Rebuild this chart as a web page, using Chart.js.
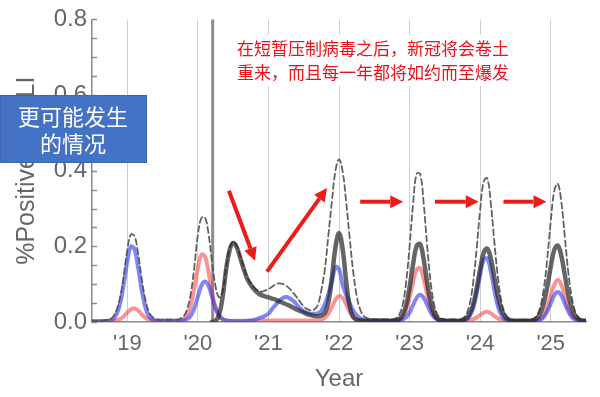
<!DOCTYPE html>
<html>
<head>
<meta charset="utf-8">
<script src="https://cdn.jsdelivr.net/npm/chart.js@4.4.1/dist/chart.umd.min.js"></script>
<style>
  html, body { margin: 0; padding: 0; background: #fff; }
  #wrap { position: relative; width: 600px; height: 397px; }
</style>
</head>
<body>
<div id="wrap"><canvas id="iliChart" width="600" height="397"></canvas></div>
<script>
"use strict";

// curves are sampled every 0.05 yr, from 2018.50 to 2025.50
const GRID_START = 2018.5;
const GRID_STEP = 0.05;

const yearTicks = [2019, 2020, 2021, 2022, 2023, 2024, 2025];
const yearLabels = ["'19", "'20", "'21", "'22", "'23", "'24", "'25"];
const valueTicks = [0, 0.2, 0.4, 0.6, 0.8];
const minorStep = 0.05;

const suppressionYear = 2020.21;

// one line per year (first line starts at .50, last line ends at 2025.50)
const blueSeries = [
    0.002, 0.002, 0.002, 0.002, 0.003, 0.004, 0.008, 0.021, 0.05, 0.1,
    0.16, 0.199, 0.194, 0.148, 0.089, 0.043, 0.017, 0.007, 0.004, 0.003, 0.003, 0.003, 0.003, 0.003, 0.003, 0.003, 0.004, 0.008, 0.017, 0.037,
    0.067, 0.096, 0.107, 0.096, 0.067, 0.037, 0.017, 0.008, 0.004, 0.003, 0.002, 0.002, 0.002, 0.002, 0.003, 0.004, 0.006, 0.009, 0.012, 0.016,
    0.022, 0.034, 0.045, 0.055, 0.063, 0.066, 0.063, 0.056, 0.046, 0.036, 0.028, 0.024, 0.022, 0.022, 0.023, 0.029, 0.047, 0.075, 0.108, 0.145,
    0.14, 0.1, 0.072, 0.05, 0.031, 0.018, 0.01, 0.006, 0.004, 0.003, 0.003, 0.003, 0.003, 0.003, 0.003, 0.003, 0.003, 0.004, 0.006, 0.012,
    0.025, 0.045, 0.064, 0.072, 0.064, 0.045, 0.025, 0.012, 0.006, 0.004, 0.003, 0.003, 0.003, 0.003, 0.003, 0.004, 0.006, 0.015, 0.036, 0.075,
    0.125, 0.164, 0.168, 0.135, 0.085, 0.043, 0.018, 0.007, 0.004, 0.003, 0.003, 0.003, 0.003, 0.003, 0.003, 0.003, 0.004, 0.006, 0.013, 0.028,
    0.049, 0.07, 0.079, 0.07, 0.049, 0.028, 0.013, 0.006, 0.004, 0.003, 0.003
];

const redSeries = [
    0.002, 0.002, 0.002, 0.002, 0.002, 0.003, 0.003, 0.005, 0.008, 0.015,
    0.025, 0.033, 0.036, 0.031, 0.021, 0.012, 0.007, 0.004, 0.003, 0.003, 0.003, 0.003, 0.003, 0.003, 0.003, 0.004, 0.008, 0.019, 0.045, 0.09,
    0.143, 0.178, 0.174, 0.133, 0.08, 0.038, 0.016, 0.007, 0.004, 0.003, 0.003, 0.003, 0.003, 0.003, 0.003, 0.003, 0.003, 0.004, 0.004, 0.004,
    0.004, 0.004, 0.004, 0.004, 0.004, 0.004, 0.004, 0.004, 0.004, 0.004, 0.004, 0.004, 0.004, 0.004, 0.004, 0.006, 0.011, 0.022, 0.04, 0.059,
    0.069, 0.064, 0.047, 0.028, 0.014, 0.007, 0.004, 0.003, 0.003, 0.003, 0.003, 0.003, 0.003, 0.003, 0.003, 0.003, 0.004, 0.006, 0.013, 0.031,
    0.064, 0.106, 0.139, 0.142, 0.114, 0.072, 0.037, 0.016, 0.007, 0.004, 0.003, 0.003, 0.003, 0.003, 0.003, 0.003, 0.003, 0.004, 0.007, 0.012,
    0.019, 0.025, 0.027, 0.023, 0.016, 0.01, 0.006, 0.004, 0.003, 0.003, 0.003, 0.003, 0.003, 0.003, 0.003, 0.003, 0.004, 0.008, 0.018, 0.038,
    0.069, 0.098, 0.111, 0.098, 0.069, 0.038, 0.018, 0.008, 0.004, 0.003, 0.003
];

const covidSeries = [
    null, null, null, null, null, null, null, null, null, null,
    null, null, null, null, null, null, null, null, null, null, null, null, null, null, null, null, null, null, null, null,
    null, null, null, null, 0, 0.003, 0.018, 0.065, 0.138, 0.19, 0.209, 0.198, 0.17, 0.14, 0.114, 0.098, 0.086, 0.077, 0.071, 0.068,
    0.065, 0.062, 0.059, 0.055, 0.051, 0.047, 0.043, 0.038, 0.033, 0.029, 0.025, 0.021, 0.018, 0.016, 0.015, 0.017, 0.024, 0.052, 0.118, 0.198,
    0.235, 0.195, 0.11, 0.042, 0.013, 0.006, 0.004, 0.003, 0.003, 0.003, 0.003, 0.003, 0.003, 0.003, 0.003, 0.003, 0.004, 0.007, 0.018, 0.044,
    0.092, 0.153, 0.201, 0.206, 0.165, 0.104, 0.052, 0.021, 0.008, 0.004, 0.003, 0.003, 0.003, 0.003, 0.003, 0.005, 0.009, 0.021, 0.046, 0.088,
    0.14, 0.183, 0.194, 0.169, 0.12, 0.07, 0.034, 0.015, 0.007, 0.004, 0.003, 0.003, 0.003, 0.003, 0.003, 0.005, 0.009, 0.022, 0.048, 0.092,
    0.146, 0.19, 0.202, 0.175, 0.124, 0.072, 0.035, 0.015, 0.007, 0.004, 0.003
];

const upperSeries = [
    0.003, 0.003, 0.003, 0.004, 0.005, 0.007, 0.014, 0.032, 0.066, 0.122,
    0.19, 0.231, 0.228, 0.185, 0.12, 0.064, 0.03, 0.014, 0.008, 0.006, 0.006, 0.006, 0.006, 0.006, 0.006, 0.009, 0.015, 0.035, 0.075, 0.145,
    0.23, 0.275, 0.277, 0.235, 0.16, 0.095, 0.065, 0.08, 0.142, 0.194, 0.213, 0.202, 0.174, 0.144, 0.118, 0.102, 0.091, 0.083, 0.08, 0.083,
    0.087, 0.093, 0.099, 0.102, 0.101, 0.096, 0.088, 0.077, 0.066, 0.053, 0.041, 0.034, 0.031, 0.033, 0.045, 0.085, 0.14, 0.23, 0.32, 0.40,
    0.43, 0.40, 0.32, 0.225, 0.135, 0.07, 0.033, 0.016, 0.01, 0.008, 0.007, 0.007, 0.007, 0.007, 0.006, 0.006, 0.009, 0.018, 0.044, 0.103,
    0.2, 0.313, 0.392, 0.392, 0.313, 0.2, 0.103, 0.044, 0.018, 0.009, 0.007, 0.006, 0.006, 0.006, 0.006, 0.009, 0.019, 0.046, 0.103, 0.193,
    0.296, 0.371, 0.38, 0.316, 0.215, 0.12, 0.056, 0.023, 0.01, 0.006, 0.005, 0.005, 0.005, 0.005, 0.006, 0.008, 0.016, 0.038, 0.085, 0.166,
    0.265, 0.346, 0.366, 0.318, 0.225, 0.13, 0.063, 0.026, 0.011, 0.006, 0.005
];

const noteLines = ['在短暂压制病毒之后，新冠将会卷土', '重来，而且每一年都将如约而至爆发'];
const noteAt = [2020.555, 0.722];
const boxLines = ['更可能发生', '的情况'];

// [fromYear, fromValue, toYear, toValue]
const arrows = [
    [2020.44, 0.347, 2020.81, 0.162],
    [2020.98, 0.133, 2021.83, 0.354],
    [2022.30, 0.318, 2022.91, 0.318],
    [2023.36, 0.318, 2023.98, 0.318],
    [2024.33, 0.318, 2024.94, 0.318]
];

const AXIS_GREY = '#666666';
const FONT = '"Liberation Sans", Arial, Helvetica, sans-serif';
const CJK = '"Noto Sans CJK SC", sans-serif';

function toPoints(values) {
    return values.map((v, i) => ({ x: GRID_START + i * GRID_STEP, y: v }));
}

function drawArrow(ctx, x1, y1, x2, y2) {
    const ang = Math.atan2(y2 - y1, x2 - x1);
    const head = 13, half = 6.5;
    const bx = x2 - head * Math.cos(ang);
    const by = y2 - head * Math.sin(ang);
    ctx.beginPath();
    ctx.moveTo(x1, y1);
    ctx.lineTo(bx, by);
    ctx.stroke();
    ctx.beginPath();
    ctx.moveTo(x2, y2);
    ctx.lineTo(bx + half * Math.sin(ang), by - half * Math.cos(ang));
    ctx.lineTo(bx - half * Math.sin(ang), by + half * Math.cos(ang));
    ctx.closePath();
    ctx.fill();
}

const decorations = {
    id: 'decorations',
    beforeDatasetsDraw(chart) {
        const { ctx, chartArea, scales: { x } } = chart;
        const px = x.getPixelForValue(suppressionYear);
        ctx.save();
        ctx.strokeStyle = '#8e8e8e';
        ctx.lineWidth = 3;
        ctx.beginPath();
        ctx.moveTo(px, chartArea.top);
        ctx.lineTo(px, chartArea.bottom);
        ctx.stroke();
        ctx.restore();
    },
    afterDraw(chart) {
        const { ctx, chartArea, scales: { x, y } } = chart;
        ctx.save();

        // inward minor ticks on the value axis
        ctx.strokeStyle = '#8a8a8a';
        ctx.lineWidth = 1.5;
        const steps = Math.round(valueTicks[valueTicks.length - 1] / minorStep);
        for (let i = 0; i <= steps; i++) {
            const py = Math.round(y.getPixelForValue(i * minorStep)) + 0.5;
            ctx.beginPath();
            ctx.moveTo(chartArea.left, py);
            ctx.lineTo(chartArea.left + 5, py);
            ctx.stroke();
        }

        // red note on white
        const nx = x.getPixelForValue(noteAt[0]);
        const ny = y.getPixelForValue(noteAt[1]);
        ctx.fillStyle = '#ffffff';
        ctx.fillRect(nx - 5, ny - 14, 282, 51);
        ctx.fillStyle = '#e8141b';
        ctx.font = '17px ' + CJK;
        ctx.textAlign = 'left';
        ctx.textBaseline = 'middle';
        noteLines.forEach((t, i) => ctx.fillText(t, nx, ny + i * 23.5));

        // arrows
        ctx.strokeStyle = '#ee1b1b';
        ctx.fillStyle = '#ee1b1b';
        ctx.lineWidth = 4;
        arrows.forEach(a => {
            drawArrow(ctx,
                x.getPixelForValue(a[0]), y.getPixelForValue(a[1]),
                x.getPixelForValue(a[2]), y.getPixelForValue(a[3]));
        });

        // blue call-out box over the axis title
        ctx.fillStyle = '#4472c4';
        ctx.fillRect(0, 95, 147, 68);
        ctx.strokeStyle = '#3d66b0';
        ctx.lineWidth = 1;
        ctx.strokeRect(0.5, 95.5, 146, 67);
        ctx.fillStyle = '#ffffff';
        ctx.font = '22px ' + CJK;
        ctx.textAlign = 'center';
        ctx.fillText(boxLines[0], 73, 117);
        ctx.fillText(boxLines[1], 73, 144);

        ctx.restore();
    }
};

const canvas = document.getElementById('iliChart');

new Chart(canvas, {
    type: 'line',
    data: {
        datasets: [
            {
                label: 'SARS-CoV-2',
                data: toPoints(covidSeries),
                borderColor: 'rgba(35, 35, 35, 0.7)',
                borderWidth: 4.5,
                order: 0
            },
            {
                label: 'upper',
                data: toPoints(upperSeries),
                borderColor: 'rgba(80, 80, 80, 0.9)',
                borderWidth: 1.8,
                borderDash: [6, 3.5],
                order: 1
            },
            {
                label: 'blue',
                data: toPoints(blueSeries),
                borderColor: 'rgba(50, 60, 240, 0.62)',
                borderWidth: 4,
                order: 2
            },
            {
                label: 'red',
                data: toPoints(redSeries),
                borderColor: 'rgba(245, 60, 60, 0.55)',
                borderWidth: 4,
                order: 3
            }
        ]
    },
    options: {
        responsive: false,
        animation: false,
        devicePixelRatio: 1,
        layout: {
            padding: { left: 0, right: 14, top: 15, bottom: 0 }
        },
        elements: {
            point: { radius: 0 },
            line: { tension: 0.4, borderCapStyle: 'round', borderJoinStyle: 'round', fill: false }
        },
        plugins: {
            legend: { display: false },
            tooltip: { enabled: false }
        },
        scales: {
            x: {
                type: 'linear',
                min: GRID_START,
                max: 2025.5,
                afterBuildTicks: scale => {
                    scale.ticks = yearTicks.map(v => ({ value: v }));
                },
                afterFit: scale => {
                    scale.height = 75;
                },
                ticks: {
                    callback: value => yearLabels[yearTicks.indexOf(value)],
                    color: AXIS_GREY,
                    font: { family: FONT, size: 22 },
                    padding: 9,
                    maxRotation: 0
                },
                grid: {
                    color: '#cfcfcf',
                    lineWidth: 1,
                    drawTicks: false
                },
                border: { display: true, color: '#8a8a8a', width: 1.5 },
                title: {
                    display: true,
                    text: 'Year',
                    color: AXIS_GREY,
                    font: { family: FONT, size: 24 },
                    padding: { top: 0, bottom: 3 }
                }
            },
            y: {
                min: 0,
                max: 0.8,
                afterBuildTicks: scale => {
                    scale.ticks = valueTicks.map(v => ({ value: v }));
                },
                afterFit: scale => {
                    scale.width = 92;
                },
                ticks: {
                    callback: value => value.toFixed(1),
                    color: AXIS_GREY,
                    font: { family: FONT, size: 24 },
                    padding: 5
                },
                grid: { display: false, drawTicks: false },
                border: { display: true, color: '#8a8a8a', width: 1.5 },
                title: {
                    display: true,
                    text: '%Positive × %ILI',
                    color: AXIS_GREY,
                    font: { family: FONT, size: 25 },
                    padding: { top: 12, bottom: 0 }
                }
            }
        }
    },
    plugins: [decorations]
});
</script>
</body>
</html>
